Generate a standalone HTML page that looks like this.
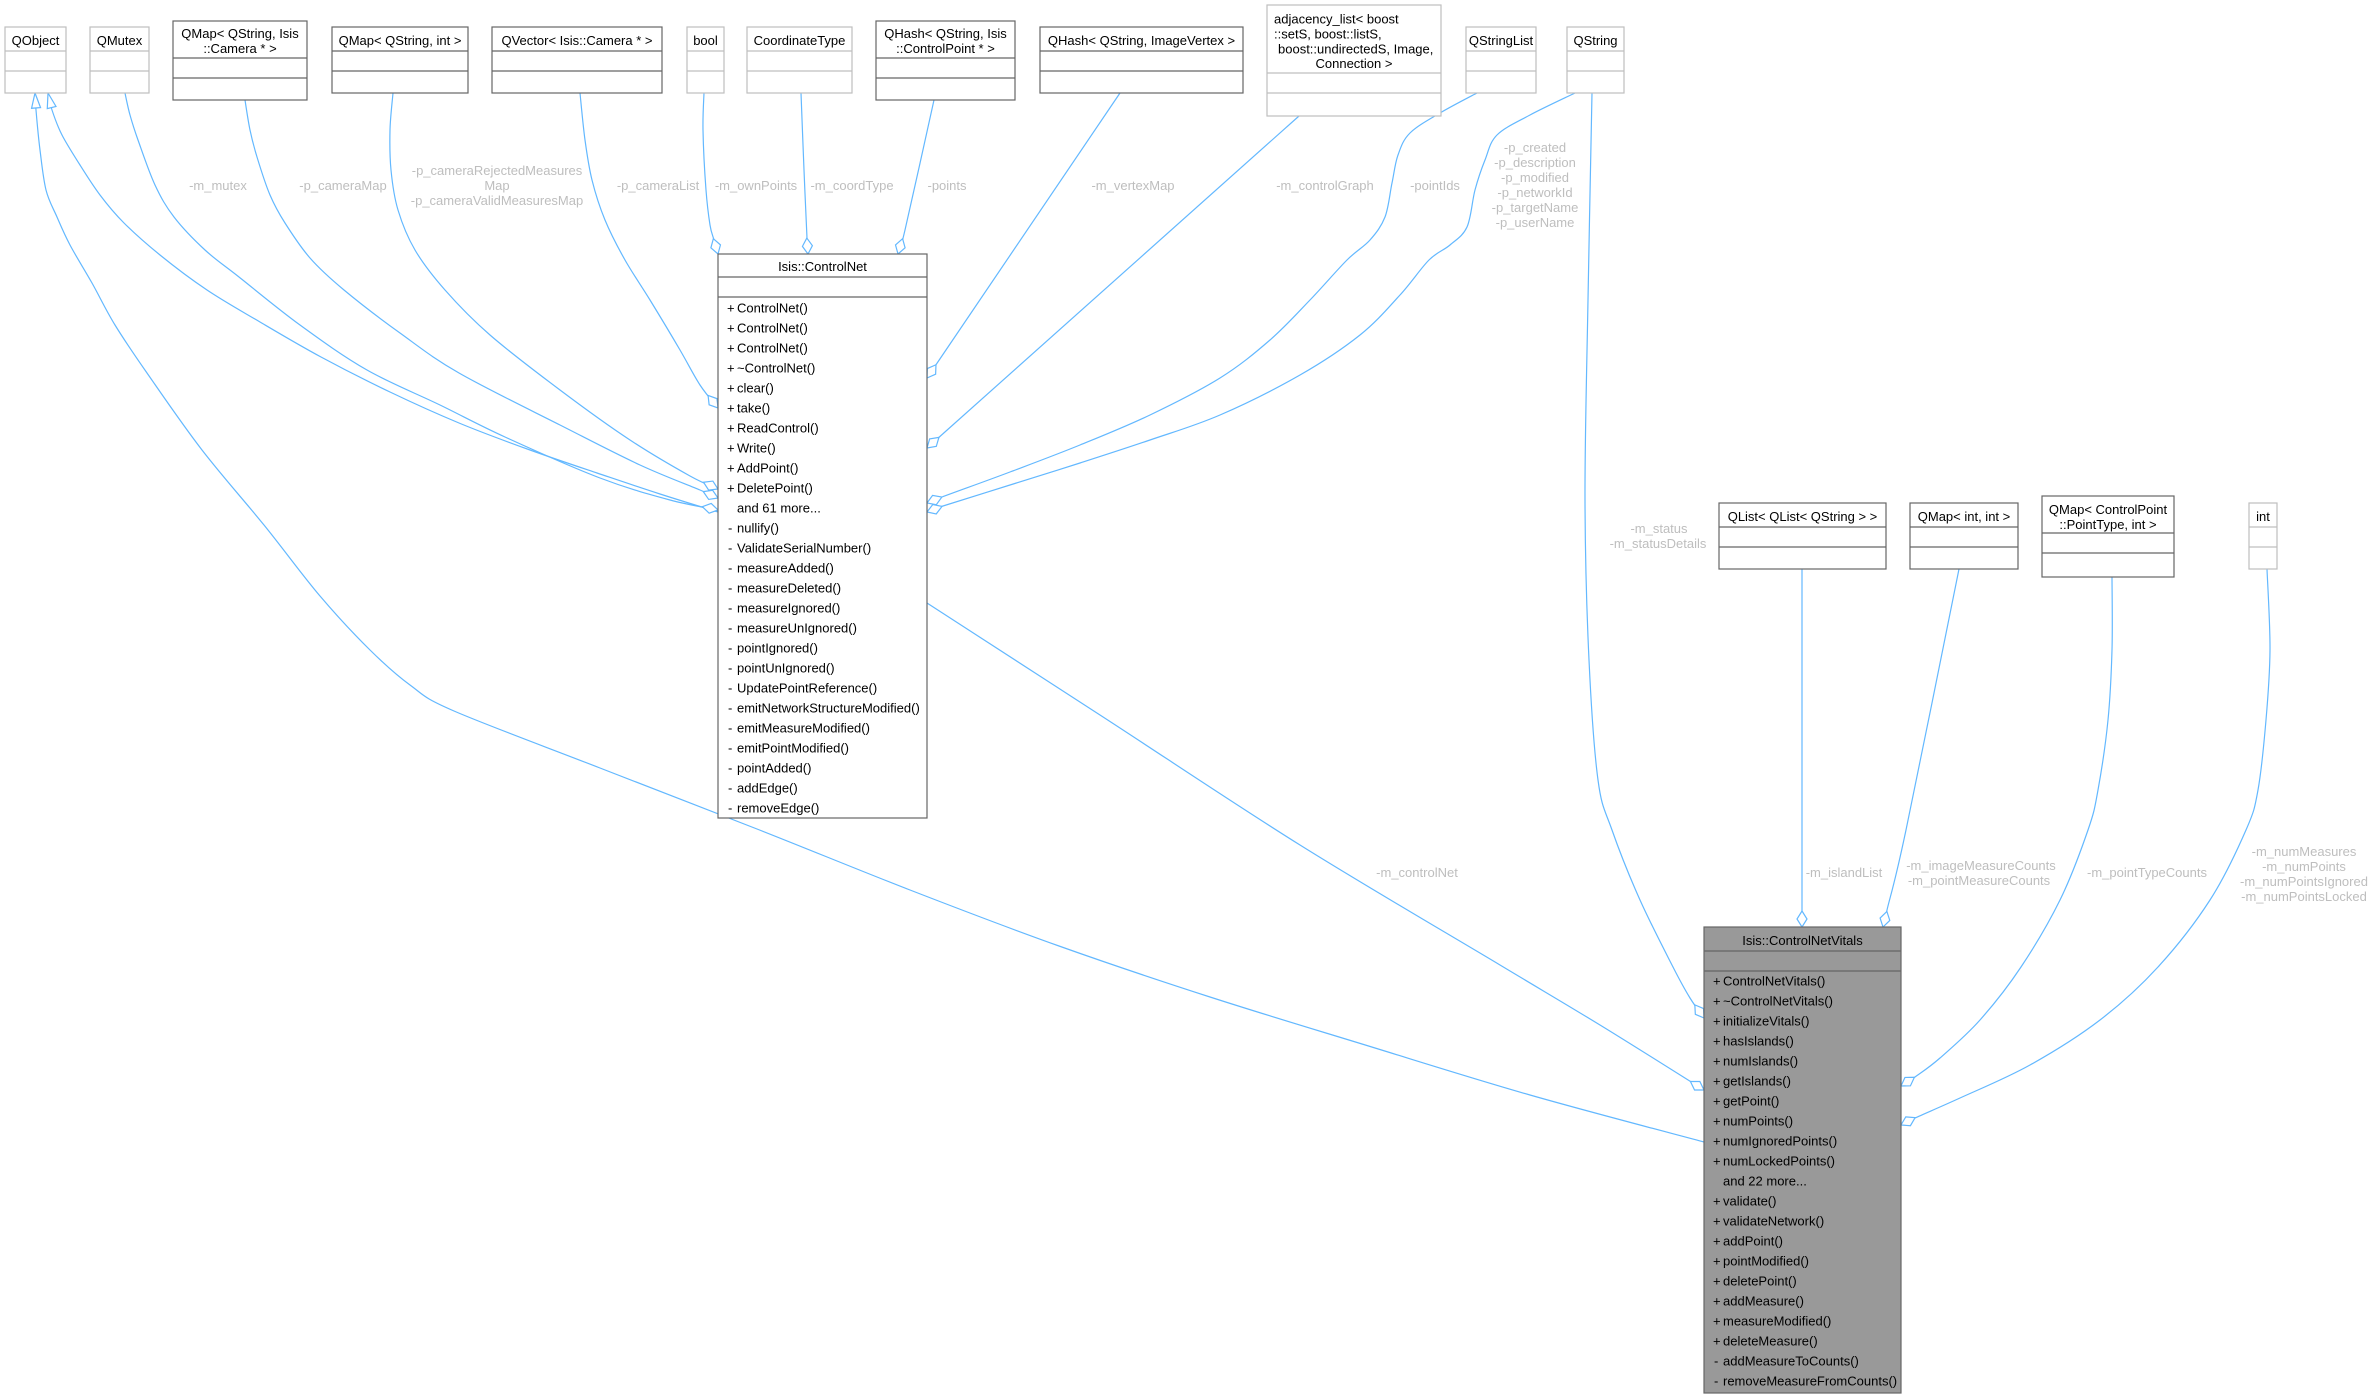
<!DOCTYPE html>
<html><head><meta charset="utf-8">
<style>
html,body{margin:0;padding:0;background:#fff;}
svg{display:block;}
text{font-family:"Liberation Sans",Arial,sans-serif;font-size:13px;}
.t{fill:#000;}
.l{fill:#bebebe;text-anchor:middle;}
.c{text-anchor:middle;}
.e{fill:none;stroke:#63b8ff;stroke-width:1.2;stroke-linejoin:round;}
.bl{fill:#fff;stroke:#bfbfbf;stroke-width:1.2;}
.bd{fill:#fff;stroke:#666;stroke-width:1.2;}
.sl{stroke:#bfbfbf;stroke-width:1.2;}
.sd{stroke:#666;stroke-width:1.2;}
</style></head>
<body>
<svg id="dg" width="2372" height="1398" viewBox="0 0 2372 1398" xmlns="http://www.w3.org/2000/svg">
<defs>
<marker id="dm" markerUnits="userSpaceOnUse" markerWidth="20" markerHeight="14" refX="17" refY="7" orient="auto">
<path d="M1,7 L9,2 L17,7 L9,12 Z" fill="#fff" stroke="#63b8ff" stroke-width="1.2"/>
</marker>
<marker id="tr" markerUnits="userSpaceOnUse" markerWidth="20" markerHeight="14" refX="16" refY="7" orient="auto">
<path d="M1,2.5 L16,7 L1,11.5 Z" fill="#fff" stroke="#63b8ff" stroke-width="1.2"/>
</marker>
</defs>
<rect width="2372" height="1398" fill="#fff"/>

<!-- EDGES -->
<polyline class="e" marker-end="url(#tr)" points="1704,1142 1530,1095 1362,1044 1210,997 1059,946 910,890 757,829 600,768 454,711 410,685 370,650 320,596 264,525 202,450 147,373 115,325 92,283 70,245 57,217 46,190 40,150 36,110 35,93"/>
<polyline class="e" marker-end="url(#tr)" points="718,512 660,494 597,473 530,450 459,423 390,392 321,357 260,322 207,290 160,255 124,223 100,195 80,165 62,135 52,110 48,93"/>
<polyline class="e" marker-end="url(#dm)" points="125,93 130,115 138,140 155,185 174,217 205,250 239,277 300,325 367,370 440,405 505,437 600,478 670,500 718,510"/>
<polyline class="e" marker-end="url(#dm)" points="245,100 250,130 257,157 270,195 285,223 310,258 344,290 400,333 459,373 560,425 640,465 700,490 718,498"/>
<polyline class="e" marker-end="url(#dm)" points="393,93 390,130 391,170 398,210 415,250 445,290 490,335 560,390 630,440 690,476 718,489"/>
<polyline class="e" marker-end="url(#dm)" points="580,93 585,140 592,180 605,220 625,260 650,300 680,350 700,385 718,408"/>
<polyline class="e" marker-end="url(#dm)" points="704,93 703,130 706,190 710,225 714,240 718,254"/>
<polyline class="e" marker-end="url(#dm)" points="801,93 804,170 807,238 808,254"/>
<polyline class="e" marker-end="url(#dm)" points="934,100 905,230 898,254"/>
<polyline class="e" marker-end="url(#dm)" points="1120,93 927,378"/>
<polyline class="e" marker-end="url(#dm)" points="1299,116 927,448"/>
<polyline class="e" marker-end="url(#dm)" points="1477,93 1440,113 1410,133 1398,155 1392,183 1385,217 1370,240 1347,260 1310,300 1270,340 1220,378 1150,415 1080,445 1010,472 942,497 927,503"/>
<polyline class="e" marker-end="url(#dm)" points="1575,93 1530,115 1497,135 1485,160 1475,190 1467,227 1450,245 1429,260 1400,295 1360,335 1300,375 1220,415 1150,440 1080,463 1010,485 943,506 927,512"/>
<polyline class="e" marker-end="url(#dm)" points="1592,93 1588,300 1585,500 1589,660 1598,780 1612,830 1640,900 1673,967 1690,998 1704,1018"/>
<polyline class="e" marker-end="url(#dm)" points="927,603 1100,715 1300,845 1500,965 1600,1025 1704,1090"/>
<polyline class="e" marker-end="url(#dm)" points="1802,569 1802,927"/>
<polyline class="e" marker-end="url(#dm)" points="1959,569 1906,830 1887,910 1883,927"/>
<polyline class="e" marker-end="url(#dm)" points="2112,577 2112,650 2108,720 2098,790 2088,830 2060,900 2021,967 1980,1020 1940,1058 1915,1077 1901,1086"/>
<polyline class="e" marker-end="url(#dm)" points="2267,569 2270,650 2266,720 2258,790 2246,830 2210,900 2158,967 2100,1020 2030,1065 1960,1098 1915,1118 1901,1125"/>

<!-- EDGE LABELS -->
<text class="l" x="218" y="190">-m_mutex</text>
<text class="l" x="343" y="190">-p_cameraMap</text>
<text class="l" x="497" y="175">-p_cameraRejectedMeasures</text>
<text class="l" x="497" y="190">Map</text>
<text class="l" x="497" y="205">-p_cameraValidMeasuresMap</text>
<text class="l" x="658" y="190">-p_cameraList</text>
<text class="l" x="756" y="190">-m_ownPoints</text>
<text class="l" x="852" y="190">-m_coordType</text>
<text class="l" x="947" y="190">-points</text>
<text class="l" x="1133" y="190">-m_vertexMap</text>
<text class="l" x="1325" y="190">-m_controlGraph</text>
<text class="l" x="1435" y="190">-pointIds</text>
<text class="l" x="1535" y="152">-p_created</text>
<text class="l" x="1535" y="167">-p_description</text>
<text class="l" x="1535" y="182">-p_modified</text>
<text class="l" x="1535" y="197">-p_networkId</text>
<text class="l" x="1535" y="212">-p_targetName</text>
<text class="l" x="1535" y="227">-p_userName</text>
<text class="l" x="1659" y="533">-m_status</text>
<text class="l" x="1658" y="548">-m_statusDetails</text>
<text class="l" x="1417" y="877">-m_controlNet</text>
<text class="l" x="1844" y="877">-m_islandList</text>
<text class="l" x="1981" y="870">-m_imageMeasureCounts</text>
<text class="l" x="1979" y="885">-m_pointMeasureCounts</text>
<text class="l" x="2147" y="877">-m_pointTypeCounts</text>
<text class="l" x="2304" y="856">-m_numMeasures</text>
<text class="l" x="2304" y="871">-m_numPoints</text>
<text class="l" x="2304" y="886">-m_numPointsIgnored</text>
<text class="l" x="2304" y="901">-m_numPointsLocked</text>

<!-- TOP ROW BOXES -->
<rect class="bl" x="5" y="27" width="61" height="66"/>
<line class="sl" x1="5" y1="51" x2="66" y2="51"/><line class="sl" x1="5" y1="71" x2="66" y2="71"/>
<text class="t c" x="35.5" y="45">QObject</text>

<rect class="bl" x="90" y="27" width="59" height="66"/>
<line class="sl" x1="90" y1="51" x2="149" y2="51"/><line class="sl" x1="90" y1="71" x2="149" y2="71"/>
<text class="t c" x="119.5" y="45">QMutex</text>

<rect class="bd" x="173" y="21" width="134" height="79"/>
<line class="sd" x1="173" y1="58" x2="307" y2="58"/><line class="sd" x1="173" y1="78" x2="307" y2="78"/>
<text class="t c" x="240" y="38">QMap&lt; QString, Isis</text>
<text class="t c" x="240" y="53">::Camera * &gt;</text>

<rect class="bd" x="332" y="27" width="136" height="66"/>
<line class="sd" x1="332" y1="51" x2="468" y2="51"/><line class="sd" x1="332" y1="71" x2="468" y2="71"/>
<text class="t c" x="400" y="45">QMap&lt; QString, int &gt;</text>

<rect class="bd" x="492" y="27" width="170" height="66"/>
<line class="sd" x1="492" y1="51" x2="662" y2="51"/><line class="sd" x1="492" y1="71" x2="662" y2="71"/>
<text class="t c" x="577" y="45">QVector&lt; Isis::Camera * &gt;</text>

<rect class="bl" x="687" y="27" width="37" height="66"/>
<line class="sl" x1="687" y1="51" x2="724" y2="51"/><line class="sl" x1="687" y1="71" x2="724" y2="71"/>
<text class="t c" x="705.5" y="45">bool</text>

<rect class="bl" x="747" y="27" width="105" height="66"/>
<line class="sl" x1="747" y1="51" x2="852" y2="51"/><line class="sl" x1="747" y1="71" x2="852" y2="71"/>
<text class="t c" x="799.5" y="45">CoordinateType</text>

<rect class="bd" x="876" y="21" width="139" height="79"/>
<line class="sd" x1="876" y1="58" x2="1015" y2="58"/><line class="sd" x1="876" y1="78" x2="1015" y2="78"/>
<text class="t c" x="945.5" y="38">QHash&lt; QString, Isis</text>
<text class="t c" x="945.5" y="53">::ControlPoint * &gt;</text>

<rect class="bd" x="1040" y="27" width="203" height="66"/>
<line class="sd" x1="1040" y1="51" x2="1243" y2="51"/><line class="sd" x1="1040" y1="71" x2="1243" y2="71"/>
<text class="t c" x="1141.5" y="45">QHash&lt; QString, ImageVertex &gt;</text>

<rect class="bl" x="1267" y="5" width="174" height="111"/>
<line class="sl" x1="1267" y1="73" x2="1441" y2="73"/><line class="sl" x1="1267" y1="93" x2="1441" y2="93"/>
<text class="t" x="1274" y="23.5">adjacency_list&lt; boost</text>
<text class="t" x="1274" y="38.5">::setS, boost::listS,</text>
<text class="t" x="1278" y="53.5"> boost::undirectedS, Image,</text>
<text class="t c" x="1354" y="68">Connection &gt;</text>

<rect class="bl" x="1466" y="27" width="70" height="66"/>
<line class="sl" x1="1466" y1="51" x2="1536" y2="51"/><line class="sl" x1="1466" y1="71" x2="1536" y2="71"/>
<text class="t c" x="1501" y="45">QStringList</text>

<rect class="bl" x="1567" y="27" width="57" height="66"/>
<line class="sl" x1="1567" y1="51" x2="1624" y2="51"/><line class="sl" x1="1567" y1="71" x2="1624" y2="71"/>
<text class="t c" x="1595.5" y="45">QString</text>

<!-- RIGHT ROW BOXES -->
<rect class="bd" x="1719" y="503" width="167" height="66"/>
<line class="sd" x1="1719" y1="527" x2="1886" y2="527"/><line class="sd" x1="1719" y1="547" x2="1886" y2="547"/>
<text class="t c" x="1802.5" y="521">QList&lt; QList&lt; QString &gt; &gt;</text>

<rect class="bd" x="1910" y="503" width="108" height="66"/>
<line class="sd" x1="1910" y1="527" x2="2018" y2="527"/><line class="sd" x1="1910" y1="547" x2="2018" y2="547"/>
<text class="t c" x="1964" y="521">QMap&lt; int, int &gt;</text>

<rect class="bd" x="2042" y="496" width="132" height="81"/>
<line class="sd" x1="2042" y1="533" x2="2174" y2="533"/><line class="sd" x1="2042" y1="553" x2="2174" y2="553"/>
<text class="t c" x="2108" y="514">QMap&lt; ControlPoint</text>
<text class="t c" x="2108" y="529">::PointType, int &gt;</text>

<rect class="bl" x="2249" y="503" width="28" height="66"/>
<line class="sl" x1="2249" y1="527" x2="2277" y2="527"/><line class="sl" x1="2249" y1="547" x2="2277" y2="547"/>
<text class="t c" x="2263" y="521">int</text>

<!-- Isis::ControlNet -->
<rect class="bd" x="718" y="254" width="209" height="564"/>
<line class="sd" x1="718" y1="277" x2="927" y2="277"/><line class="sd" x1="718" y1="297" x2="927" y2="297"/>
<text class="t c" x="822.5" y="271">Isis::ControlNet</text>
<g class="t">
<text x="727" y="312.5">+</text><text x="737" y="312.5">ControlNet()</text>
<text x="727" y="332.5">+</text><text x="737" y="332.5">ControlNet()</text>
<text x="727" y="352.5">+</text><text x="737" y="352.5">ControlNet()</text>
<text x="727" y="372.5">+</text><text x="737" y="372.5">~ControlNet()</text>
<text x="727" y="392.5">+</text><text x="737" y="392.5">clear()</text>
<text x="727" y="412.5">+</text><text x="737" y="412.5">take()</text>
<text x="727" y="432.5">+</text><text x="737" y="432.5">ReadControl()</text>
<text x="727" y="452.5">+</text><text x="737" y="452.5">Write()</text>
<text x="727" y="472.5">+</text><text x="737" y="472.5">AddPoint()</text>
<text x="727" y="492.5">+</text><text x="737" y="492.5">DeletePoint()</text>
<text x="737" y="512.5">and 61 more...</text>
<text x="728" y="532.5">-</text><text x="737" y="532.5">nullify()</text>
<text x="728" y="552.5">-</text><text x="737" y="552.5">ValidateSerialNumber()</text>
<text x="728" y="572.5">-</text><text x="737" y="572.5">measureAdded()</text>
<text x="728" y="592.5">-</text><text x="737" y="592.5">measureDeleted()</text>
<text x="728" y="612.5">-</text><text x="737" y="612.5">measureIgnored()</text>
<text x="728" y="632.5">-</text><text x="737" y="632.5">measureUnIgnored()</text>
<text x="728" y="652.5">-</text><text x="737" y="652.5">pointIgnored()</text>
<text x="728" y="672.5">-</text><text x="737" y="672.5">pointUnIgnored()</text>
<text x="728" y="692.5">-</text><text x="737" y="692.5">UpdatePointReference()</text>
<text x="728" y="712.5">-</text><text x="737" y="712.5">emitNetworkStructureModified()</text>
<text x="728" y="732.5">-</text><text x="737" y="732.5">emitMeasureModified()</text>
<text x="728" y="752.5">-</text><text x="737" y="752.5">emitPointModified()</text>
<text x="728" y="772.5">-</text><text x="737" y="772.5">pointAdded()</text>
<text x="728" y="792.5">-</text><text x="737" y="792.5">addEdge()</text>
<text x="728" y="812.5">-</text><text x="737" y="812.5">removeEdge()</text>
</g>

<!-- Isis::ControlNetVitals -->
<rect x="1704" y="927" width="197" height="466" fill="#999" stroke="#666" stroke-width="1.2"/>
<line class="sd" x1="1704" y1="951" x2="1901" y2="951"/><line class="sd" x1="1704" y1="971" x2="1901" y2="971"/>
<text class="t c" x="1802.5" y="945">Isis::ControlNetVitals</text>
<g class="t">
<text x="1713" y="985.5">+</text><text x="1723" y="985.5">ControlNetVitals()</text>
<text x="1713" y="1005.5">+</text><text x="1723" y="1005.5">~ControlNetVitals()</text>
<text x="1713" y="1025.5">+</text><text x="1723" y="1025.5">initializeVitals()</text>
<text x="1713" y="1045.5">+</text><text x="1723" y="1045.5">hasIslands()</text>
<text x="1713" y="1065.5">+</text><text x="1723" y="1065.5">numIslands()</text>
<text x="1713" y="1085.5">+</text><text x="1723" y="1085.5">getIslands()</text>
<text x="1713" y="1105.5">+</text><text x="1723" y="1105.5">getPoint()</text>
<text x="1713" y="1125.5">+</text><text x="1723" y="1125.5">numPoints()</text>
<text x="1713" y="1145.5">+</text><text x="1723" y="1145.5">numIgnoredPoints()</text>
<text x="1713" y="1165.5">+</text><text x="1723" y="1165.5">numLockedPoints()</text>
<text x="1723" y="1185.5">and 22 more...</text>
<text x="1713" y="1205.5">+</text><text x="1723" y="1205.5">validate()</text>
<text x="1713" y="1225.5">+</text><text x="1723" y="1225.5">validateNetwork()</text>
<text x="1713" y="1245.5">+</text><text x="1723" y="1245.5">addPoint()</text>
<text x="1713" y="1265.5">+</text><text x="1723" y="1265.5">pointModified()</text>
<text x="1713" y="1285.5">+</text><text x="1723" y="1285.5">deletePoint()</text>
<text x="1713" y="1305.5">+</text><text x="1723" y="1305.5">addMeasure()</text>
<text x="1713" y="1325.5">+</text><text x="1723" y="1325.5">measureModified()</text>
<text x="1713" y="1345.5">+</text><text x="1723" y="1345.5">deleteMeasure()</text>
<text x="1714" y="1365.5">-</text><text x="1723" y="1365.5">addMeasureToCounts()</text>
<text x="1714" y="1385.5">-</text><text x="1723" y="1385.5">removeMeasureFromCounts()</text>
</g>
</svg>
<script>
(function(){
  var ns="http://www.w3.org/2000/svg";
  var pls=document.querySelectorAll("#dg polyline.e");
  for(var k=0;k<pls.length;k++){
    var pl=pls[k];
    var raw=pl.getAttribute("points").trim().split(/\s+/);
    var p=raw.map(function(s){var a=s.split(",");return [parseFloat(a[0]),parseFloat(a[1])];});
    if(p.length<3) continue;
    var d="M"+p[0][0]+","+p[0][1];
    for(var i=0;i<p.length-1;i++){
      var p0=p[i>0?i-1:i],p1=p[i],p2=p[i+1],p3=p[i+2<p.length?i+2:i+1];
      var c1x=p1[0]+(p2[0]-p0[0])/6,c1y=p1[1]+(p2[1]-p0[1])/6;
      var c2x=p2[0]-(p3[0]-p1[0])/6,c2y=p2[1]-(p3[1]-p1[1])/6;
      d+=" C"+c1x.toFixed(1)+","+c1y.toFixed(1)+" "+c2x.toFixed(1)+","+c2y.toFixed(1)+" "+p2[0]+","+p2[1];
    }
    var path=document.createElementNS(ns,"path");
    path.setAttribute("class","e");
    path.setAttribute("d",d);
    path.setAttribute("marker-end",pl.getAttribute("marker-end"));
    pl.parentNode.replaceChild(path,pl);
  }
})();
</script>
</body></html>
